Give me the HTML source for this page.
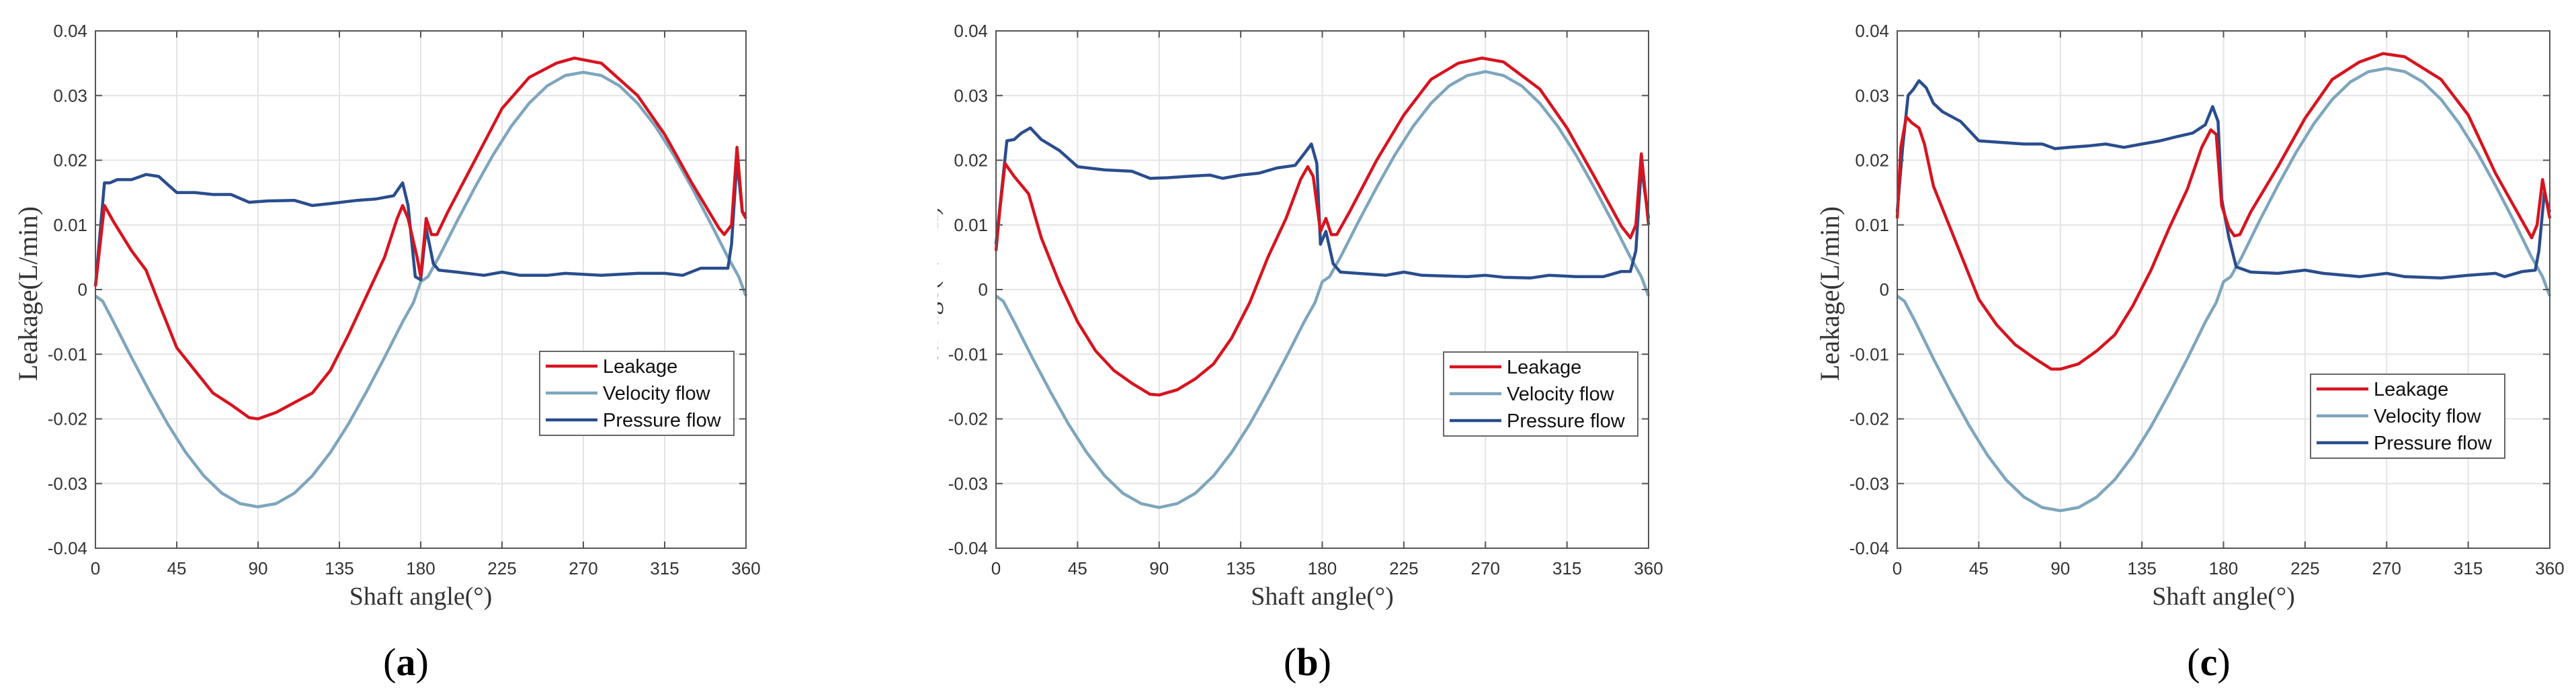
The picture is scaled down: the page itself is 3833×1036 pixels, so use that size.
<!DOCTYPE html>
<html><head><meta charset="utf-8"><style>
html,body{margin:0;padding:0;background:#fff;}
svg{display:block;}
</style></head><body>
<svg id="fig" width="3833" height="1036" viewBox="0 0 3833 1036" xmlns="http://www.w3.org/2000/svg"></svg>
<script>
const xTicks = [0,45,90,135,180,225,270,315,360];
const yTicks = [-0.04,-0.03,-0.02,-0.01,0,0.01,0.02,0.03,0.04];
const yTickLabels = ["-0.04","-0.03","-0.02","-0.01","0","0.01","0.02","0.03","0.04"];
const seriesNames = ["Leakage","Velocity flow","Pressure flow"];

const velAngles = [0,4,10,20,30,40,50,60,70,80,90,100,110,120,130,140,150,160,170,176,180,184,190,200,210,220,230,240,250,260,270,280,290,300,310,320,330,340,350,356,360];
const velA = [-0.001,-0.0018,-0.005,-0.0105,-0.0158,-0.0208,-0.0252,-0.0288,-0.0315,-0.0331,-0.0336,-0.0331,-0.0315,-0.0288,-0.0252,-0.0208,-0.0158,-0.0105,-0.005,-0.002,0.0012,0.002,0.005,0.0105,0.0158,0.0208,0.0252,0.0288,0.0315,0.0331,0.0336,0.0331,0.0315,0.0288,0.0252,0.0208,0.0158,0.0105,0.005,0.002,-0.001];
const velB = [-0.001,-0.0018,-0.005,-0.0105,-0.0158,-0.0208,-0.0252,-0.0288,-0.0315,-0.0331,-0.0337,-0.0331,-0.0315,-0.0288,-0.0252,-0.0208,-0.0158,-0.0105,-0.005,-0.002,0.0012,0.002,0.005,0.0105,0.0158,0.0208,0.0252,0.0288,0.0315,0.0331,0.0337,0.0331,0.0315,0.0288,0.0252,0.0208,0.0158,0.0105,0.005,0.002,-0.001];
const velC = [-0.001,-0.0018,-0.005,-0.0107,-0.0161,-0.0212,-0.0257,-0.0294,-0.0321,-0.0337,-0.0342,-0.0337,-0.0321,-0.0294,-0.0257,-0.0212,-0.0161,-0.0107,-0.005,-0.002,0.0012,0.002,0.005,0.0107,0.0161,0.0212,0.0257,0.0294,0.0321,0.0337,0.0342,0.0337,0.0321,0.0294,0.0257,0.0212,0.0161,0.0107,0.005,0.002,-0.001];

const leakAnglesA = [0,5,10,20,28,35,45,55,65,75,85,90,100,110,120,130,140,150,160,167,170,173,178,180,183,186,189,195,210,225,240,255,265,280,300,315,330,345,348,352,355,358,360];
const leakA = [0.0005,0.013,0.0105,0.006,0.003,-0.002,-0.009,-0.0125,-0.016,-0.0178,-0.0198,-0.02,-0.019,-0.0175,-0.016,-0.0125,-0.007,-0.001,0.005,0.011,0.013,0.011,0.005,0.002,0.011,0.0085,0.0085,0.012,0.02,0.028,0.0328,0.035,0.0358,0.035,0.03,0.024,0.0165,0.0095,0.0085,0.01,0.022,0.012,0.011];
const presAnglesA = [0,5,8,12,20,28,35,45,55,65,75,85,95,110,120,130,145,155,165,170,173,177,180,183,187,190,200,215,225,235,250,260,280,300,315,325,335,350,352,355,358,360];
const presA = [0.0005,0.0165,0.0165,0.017,0.017,0.0178,0.0175,0.015,0.015,0.0147,0.0147,0.0135,0.0137,0.0138,0.013,0.0133,0.0138,0.014,0.0145,0.0165,0.013,0.002,0.0015,0.0095,0.004,0.003,0.0027,0.0022,0.0027,0.0022,0.0022,0.0025,0.0022,0.0025,0.0025,0.0022,0.0033,0.0033,0.007,0.02,0.012,0.0115];

const leakAnglesB = [0,2,5,10,18,25,35,45,55,65,75,85,90,100,110,120,130,140,150,160,168,172,175,179,182,185,188,195,210,225,240,255,268,280,300,315,330,345,350,353,356,360];
const leakB = [0.006,0.012,0.0195,0.0175,0.0148,0.008,0.001,-0.005,-0.0095,-0.0125,-0.0145,-0.0162,-0.0163,-0.0155,-0.0138,-0.0115,-0.0075,-0.002,0.005,0.011,0.017,0.019,0.0175,0.009,0.011,0.0085,0.0085,0.012,0.02,0.027,0.0325,0.035,0.0358,0.0352,0.031,0.025,0.0175,0.0098,0.008,0.01,0.021,0.01];
const presAnglesB = [0,3,6,10,14,19,25,35,45,60,75,85,95,105,118,125,135,145,155,165,170,174,177,179,182,186,190,215,225,235,260,270,280,295,305,320,335,345,350,353,356,360];
const presB = [0.007,0.015,0.023,0.0232,0.0242,0.025,0.0232,0.0215,0.019,0.0185,0.0183,0.0172,0.0173,0.0175,0.0177,0.0172,0.0177,0.018,0.0188,0.0192,0.021,0.0225,0.0195,0.007,0.009,0.004,0.0027,0.0022,0.0027,0.0022,0.002,0.0022,0.0019,0.0018,0.0022,0.002,0.002,0.0028,0.0028,0.006,0.019,0.011];

const leakAnglesC = [0,2,5,8,12,15,20,30,40,45,55,65,75,85,90,100,110,120,130,140,150,160,168,173,176,179,183,186,189,195,210,225,240,255,268,280,300,315,330,345,350,353,356,360];
const leakC = [0.011,0.022,0.0267,0.0258,0.025,0.0225,0.016,0.009,0.002,-0.0015,-0.0055,-0.0085,-0.0105,-0.0123,-0.0123,-0.0115,-0.0095,-0.007,-0.0025,0.003,0.0095,0.0155,0.022,0.0247,0.024,0.013,0.0095,0.0083,0.0085,0.012,0.019,0.0265,0.0325,0.0352,0.0365,0.036,0.0325,0.027,0.018,0.0105,0.008,0.01,0.017,0.011];
const presAnglesC = [0,3,6,9,12,16,20,25,35,45,60,70,80,87,95,105,115,125,135,145,155,163,170,174,177,179,183,187,195,210,225,235,255,270,280,300,315,330,335,345,352,354,357,360];
const presC = [0.012,0.022,0.030,0.031,0.0323,0.0312,0.0288,0.0275,0.026,0.023,0.0227,0.0225,0.0225,0.0218,0.022,0.0222,0.0225,0.022,0.0225,0.023,0.0237,0.0242,0.0255,0.0283,0.026,0.014,0.008,0.0035,0.0027,0.0025,0.003,0.0025,0.002,0.0025,0.002,0.0018,0.0022,0.0025,0.002,0.0028,0.003,0.006,0.015,0.012];

const panels = [
 {id:"a", L:142, R:1110, leg:[803,523], lx:[leakAnglesA,leakA], vx:[velAngles,velA], px:[presAnglesA,presA], clip:0},
 {id:"b", L:1482, R:2453, leg:[2148,524], lx:[leakAnglesB,leakB], vx:[velAngles,velB], px:[presAnglesB,presB], clip:1395},
 {id:"c", L:2823, R:3794, leg:[3438,557], lx:[leakAnglesC,leakC], vx:[velAngles,velC], px:[presAnglesC,presC], clip:0}
];
const TOP=46, BOT=816;
const colors = ["#d7141f","#7ea6bd","#2a4d8d"];
const NS="http://www.w3.org/2000/svg";
const fig=document.getElementById('fig');
function mk(tag,attrs,parent){const e=document.createElementNS(NS,tag);for(const k in attrs)e.setAttribute(k,attrs[k]);(parent||fig).appendChild(e);return e;}

panels.forEach(p=>{
  const g=mk('g',{});
  
  
  const xs=v=>p.L+(v/360)*(p.R-p.L);
  const ys=v=>BOT-((v+0.04)/0.08)*(BOT-TOP);
  xTicks.forEach(t=>{const l=mk('line',{x1:xs(t),x2:xs(t),y1:TOP,y2:BOT,stroke:'#e4e4e4','stroke-width':2},g);
    });
  yTicks.forEach(t=>{const l=mk('line',{x1:p.L,x2:p.R,y1:ys(t),y2:ys(t),stroke:'#e4e4e4','stroke-width':2},g);
    });
  const ser=[p.lx,p.vx,p.px];
  [1,2,0].forEach(i=>{
    const [ax,vals]=ser[i];
    const d=ax.map((a,k)=>(k?'L':'M')+xs(a).toFixed(1)+' '+ys(vals[k]).toFixed(1)).join(' ');
    const path=mk('path',{d:d,fill:'none',stroke:colors[i],'stroke-width':4.5,'stroke-linejoin':'round'},g);
    
    
  });
  const box=mk('rect',{x:p.L,y:TOP,width:p.R-p.L,height:BOT-TOP,fill:'none',stroke:'#555','stroke-width':2},g);
  
  xTicks.forEach(t=>{
    mk('line',{x1:xs(t),x2:xs(t),y1:BOT,y2:BOT-10,stroke:'#555','stroke-width':2},g);
    mk('line',{x1:xs(t),x2:xs(t),y1:TOP,y2:TOP+10,stroke:'#555','stroke-width':2},g);
    const tx=mk('text',{x:xs(t),y:855,'text-anchor':'middle','font-family':'Liberation Sans, sans-serif','font-size':26,fill:'#333'},g);
    tx.textContent=t;
  });
  yTicks.forEach((t,i)=>{
    mk('line',{x1:p.L,x2:p.L+10,y1:ys(t),y2:ys(t),stroke:'#555','stroke-width':2},g);
    mk('line',{x1:p.R,x2:p.R-10,y1:ys(t),y2:ys(t),stroke:'#555','stroke-width':2},g);
    const tx=mk('text',{x:p.L-12,y:ys(t)+9,'text-anchor':'end','font-family':'Liberation Sans, sans-serif','font-size':26,fill:'#333'},g);
    tx.textContent=yTickLabels[i];
  });
  const xl=mk('text',{x:(p.L+p.R)/2,y:900,'text-anchor':'middle','font-family':'Liberation Serif, serif','font-size':38,fill:'#333'},g);
  xl.textContent='Shaft angle(°)';
  const yx=p.L-87, yy=437;
  const yl=mk('text',{x:yx,y:yy,transform:`rotate(-90 ${yx} ${yy})`,'text-anchor':'middle','font-family':'Liberation Serif, serif','font-size':40,fill:'#333'},g);
  yl.textContent='Leakage(L/min)';
  if(p.clip){mk('rect',{x:p.clip-200,y:0,width:200,height:1036,fill:'#fff'},g);}
  const pl=mk('text',{x:(p.L+p.R)/2-22,y:1005,'text-anchor':'middle','font-family':'Liberation Serif, serif','font-size':58,fill:'#000'},g);
  pl.innerHTML='(<tspan font-weight="bold">'+p.id+'</tspan>)';
  
  const [lx,ly]=p.leg;
  const lg=mk('g',{},g);
  
  mk('rect',{x:lx,y:ly,width:289,height:125,fill:'#fff',stroke:'#666','stroke-width':2},lg);
  seriesNames.forEach((n,i)=>{
    const cy=ly+22+i*40;
    mk('line',{x1:lx+9,x2:lx+86,y1:cy,y2:cy,stroke:colors[i],'stroke-width':4.5},lg);
    const t=mk('text',{x:lx+94,y:cy+10,'font-family':'Liberation Sans, sans-serif','font-size':29,fill:'#111'},lg);
    t.textContent=n;
  });
});
</script>
</body></html>
